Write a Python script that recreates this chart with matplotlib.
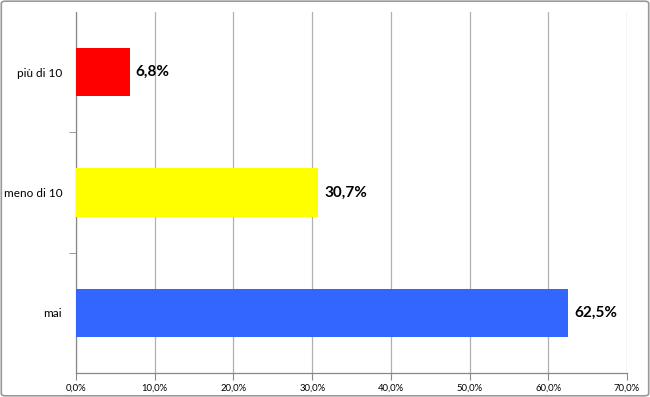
import matplotlib.pyplot as plt
from matplotlib.patches import FancyBboxPatch
from matplotlib.ticker import FuncFormatter, FixedLocator

plt.rcParams['font.family'] = ['Lato', 'DejaVu Sans']

categorie = ['mai', 'meno di 10', 'più di 10']
valori = [62.5, 30.7, 6.8]
colori = ['#3366FF', '#FFFF00', '#FF0000']

fig = plt.figure(figsize=(6.5, 3.97), dpi=100)
ax = fig.add_axes([0.117, 0.0605, 0.8476, 0.909])

pos = list(range(len(categorie)))
ax.barh(pos, valori, height=0.4, color=colori, zorder=3)

for p, v in zip(pos, valori):
    ax.text(v + 0.8, p, ('%.1f%%' % v).replace('.', ','), va='center', ha='left',
            fontsize=11, fontweight='bold', color='black', zorder=4)

ax.set_xlim(0, 70)
ax.set_ylim(-0.5, 2.5)
ax.set_xticks(range(0, 71, 10))
ax.xaxis.set_major_formatter(FuncFormatter(lambda x, _: ('%.1f%%' % x).replace('.', ',')))
ax.set_yticks(pos)
ax.set_yticklabels(categorie, fontsize=8.5)
ax.yaxis.set_minor_locator(FixedLocator([0.5, 1.5]))
ax.tick_params(axis='y', which='major', length=0, pad=10)
ax.tick_params(axis='y', which='minor', length=5, color='#888888')
ax.tick_params(axis='x', labelsize=6.8, length=5, color='#888888', pad=3)

ax.grid(axis='x', color='#b0b0b0', linewidth=0.9, zorder=0)
for s in ['top', 'right']:
    ax.spines[s].set_visible(False)
for s in ['left', 'bottom']:
    ax.spines[s].set_color('#888888')
    ax.spines[s].set_linewidth(0.9)

# cornice grigia attorno all'immagine
frame = FancyBboxPatch((0.002, 0.003), 0.996, 0.994, boxstyle='round,pad=0,rounding_size=0.006',
                       transform=fig.transFigure, fill=False, edgecolor='#999999', linewidth=1.2)
fig.patches.append(frame)

fig.savefig('out.png', dpi=100)
plt.close(fig)
